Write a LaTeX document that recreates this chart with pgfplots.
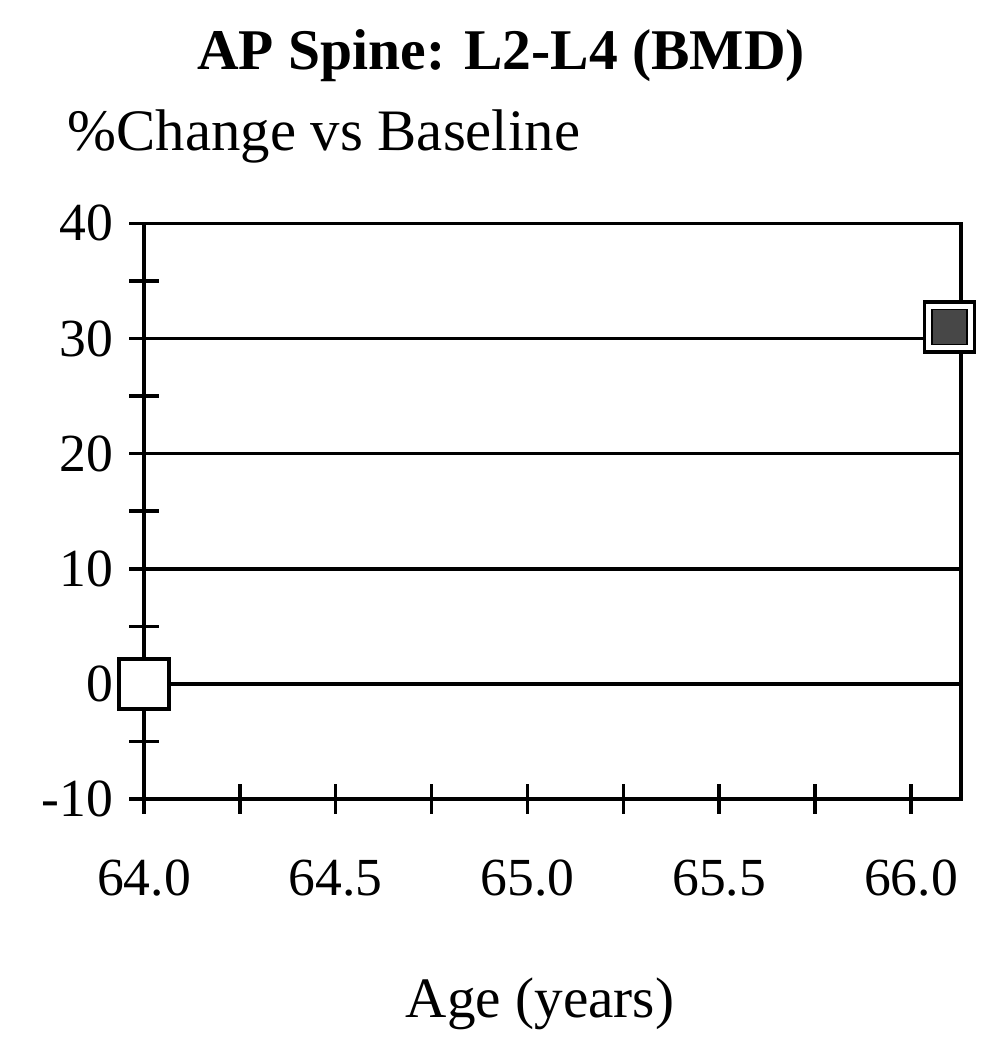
\documentclass[border=0pt]{standalone}
\usepackage{pgfplots}
\pgfplotsset{compat=1.18}
\usepackage{fontspec}
\setmainfont{Liberation Serif}
\begin{document}
\begin{tikzpicture}
\begin{axis}[
  scale only axis, width=205.75pt, height=145pt,
  xmin=64, xmax=66.13, ymin=-10, ymax=40,
  xtick={64,64.5,65,65.5,66},
  minor xtick={64.25,64.75,65.25,65.75},
  xticklabels={64.0,64.5,65.0,65.5,66.0},
  ytick={-10,0,10,20,30,40},
  yticklabels={-10,0,10,20,30,40},
  minor ytick={-5,5,15,25,35},
  ymajorgrids,
  major grid style={black, line width=0.9pt},
  axis line style={black, line width=0.9pt},
  every tick/.style={black, line width=0.9pt},
  tick align=center,
  major tick length=7.5pt, minor tick length=7.5pt,
  xtick pos=bottom, ytick pos=left,
  ticklabel style={font=\fontsize{13.5}{16}\selectfont},
  xticklabel style={anchor=north, yshift=-8pt},
  yticklabel style={anchor=east, xshift=-0.5pt},
  clip=false,
]
\addplot[only marks, mark=square*, mark size=6.3pt,
  mark options={fill=white, draw=black, line width=0.9pt}]
  coordinates {(64,0) (66.1,31)};
\addplot[only marks, mark=square*, mark size=4.4pt,
  mark options={fill=black!72, draw=none}]
  coordinates {(66.1,31)};
\node[anchor=base, font=\fontsize{14.5}{17}\selectfont\bfseries]
  at (rel axis cs:0,1) [xshift=90pt, yshift=38.75pt] {AP Spine: L2-L4 (BMD)};
\node[anchor=base west, font=\fontsize{14.8}{17}\selectfont]
  at (rel axis cs:0,1) [xshift=-22.75pt, yshift=18.25pt] {\%Change vs Baseline};
\node[anchor=base, font=\fontsize{14.4}{17}\selectfont]
  at (rel axis cs:0,0) [xshift=99.75pt, yshift=-55pt] {Age (years)};
\end{axis}
\path (current axis.south west) ++(-36.25pt,-59.5pt) coordinate (bbsw);
\path (current axis.north east) ++(7.5pt,56.25pt) coordinate (bbne);
\path[use as bounding box] (bbsw) rectangle (bbne);
\end{tikzpicture}
\end{document}
